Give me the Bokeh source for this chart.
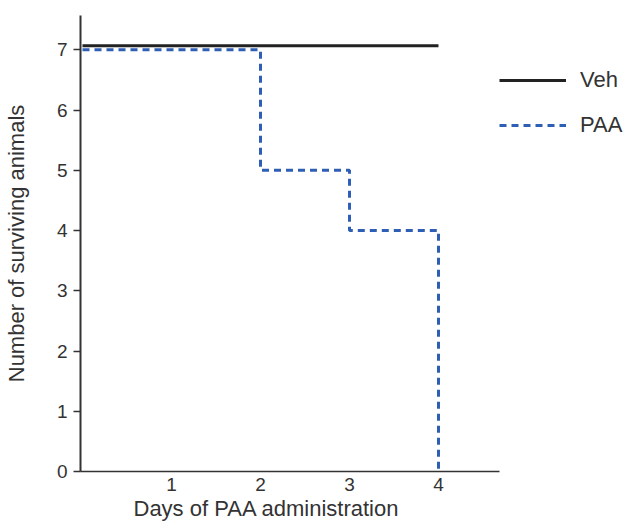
from bokeh.plotting import figure
from bokeh.models import Legend, Title, FixedTicker, Range1d, ColumnDataSource
from bokeh.transform import dodge
from bokeh.embed import file_html
from bokeh.resources import INLINE

# data
veh_days = [0, 4]
veh_alive = [7, 7]
paa_days = [0, 2, 3, 4]
paa_alive = [7, 5, 4, 0]
x_ticks = [1, 2, 3, 4]
y_ticks = [0, 1, 2, 3, 4, 5, 6, 7]
x_axis_span = (-0.0225, 4.685)

FONT = "Liberation Sans"
TXT = "#333333"

p = figure(width=628, height=523, output_backend="svg", toolbar_location=None,
           x_range=Range1d(-0.0225, 6.135), y_range=Range1d(0, 7.57),
           min_border_left=80, min_border_right=0, min_border_top=15,
           min_border_bottom=52)
p.outline_line_color = None
p.grid.grid_line_color = None
p.background_fill_color = "white"

veh_src = ColumnDataSource(dict(x=veh_days, y=veh_alive))
r_veh = p.line(x="x", y=dodge("y", 0.067), source=veh_src,
               line_color="#222222", line_width=3)
r_paa = p.step(x=paa_days, y=paa_alive, mode="after", line_color="#2f5fb5",
               line_width=3, line_dash="7 5")

# axes
p.xaxis.ticker = FixedTicker(ticks=x_ticks)
p.yaxis.ticker = FixedTicker(ticks=y_ticks)
p.xaxis.bounds = x_axis_span
for ax in (p.xaxis[0], p.yaxis[0]):
    ax.minor_tick_line_color = None
    ax.major_tick_in = 0
    ax.major_label_text_font = FONT
    ax.major_label_text_font_size = "19px"
    ax.major_label_text_color = TXT
    ax.axis_line_color = "#333333"
    ax.major_tick_line_color = "#333333"
p.xaxis.major_tick_out = 0
p.xaxis.axis_line_width = 1.5
p.xaxis.major_label_standoff = 6
p.yaxis.major_tick_out = 7
p.yaxis.axis_line_width = 2
p.yaxis.major_tick_line_width = 1.5
p.yaxis.major_label_standoff = 6
p.yaxis.axis_label = "Number of surviving animals"
p.yaxis.axis_label_text_font = FONT
p.yaxis.axis_label_text_font_size = "22px"
p.yaxis.axis_label_text_font_style = "normal"
p.yaxis.axis_label_text_color = TXT
p.yaxis.axis_label_standoff = 25

xt = Title(text="Days of PAA administration", align="left", offset=53,
           text_font=FONT, text_font_size="22px", text_font_style="normal",
           text_color=TXT, standoff=0)
p.add_layout(xt, "below")

legend = Legend(items=[("Veh", [r_veh]), ("PAA", [r_paa])],
                location=(419, 333), glyph_width=67, glyph_height=20,
                label_height=20, label_standoff=14, spacing=19,
                padding=0, margin=0, border_line_alpha=0,
                background_fill_alpha=0,
                label_text_font=FONT, label_text_font_size="22px",
                label_text_color=TXT)
p.add_layout(legend, "center")

open("out.html", "w").write(file_html(p, INLINE))
